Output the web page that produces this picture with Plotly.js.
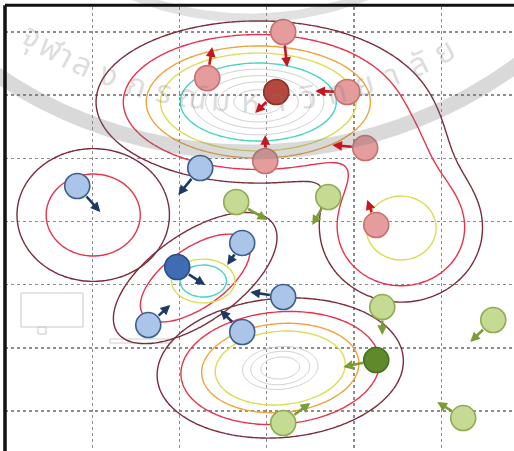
<!DOCTYPE html>
<html>
<head>
<meta charset="utf-8">
<script src="https://cdn.plot.ly/plotly-3.0.1.min.js"></script>
<style>
  html, body { margin: 0; padding: 0; background: #ffffff; }
  #chart { width: 514px; height: 451px; }
</style>
</head>
<body>
<div id="chart"></div>
<script>
// ---- sample points (grid units) and where each one moves to ----
const ptX  = [2.318, 3.189, 3.109, 3.923, 4.129, 2.983, 4.255,
              2.238, 0.828, 2.719, 1.974, 3.189, 1.642, 2.719,
              2.650, 3.705, 4.324, 5.596, 4.255, 3.189, 5.252];
const ptY  = [6.270, 7.000, 6.050, 6.050, 5.163, 4.958, 3.944,
              4.847, 4.562, 3.659, 3.280, 2.805, 2.361, 2.251,
              4.309, 4.388, 2.646, 2.441, 1.807, 0.810, 0.889];
const tipX = [2.375, 3.235, 2.868, 3.556, 3.751, 2.983, 4.152,
              1.986, 1.092, 2.547, 2.295, 2.811, 1.894, 2.467,
              3.006, 3.522, 4.324, 5.332, 3.877, 3.499, 4.954];
const tipY = [6.762, 6.446, 5.717, 6.066, 5.211, 5.369, 4.340,
              4.419, 4.150, 3.311, 2.995, 2.884, 2.678, 2.599,
              4.024, 3.944, 2.203, 2.092, 1.697, 1.127, 1.142];
const ptClass = ['r','r','r','r','r','r','r',
                 'b','b','b','b','b','b','b',
                 'g','g','g','g','g','g','g'];
const ptDark  = [0,0,1,0,0,0,0,
                 0,0,0,1,0,0,0,
                 0,0,0,0,1,0,0];

// ---- density components per class: [cx, cy, sx, sy, rho, weight] ----
const redParts = [
  [2.903, 5.892, 0.688, 0.475, 0.00, 1.00],   // main body
  [4.540, 3.897, 0.390, 0.491, 0.00, 0.45],   // lower-right lobe
  [4.470, 4.973, 0.340, 0.554, 0.00, 0.12]    // bridge between them
];
const blueParts = [
  [1.011, 4.103, 0.458, 0.551, 0.00, 0.16],   // left group
  [2.180, 3.105, 0.464, 0.514, 0.617, 0.20],  // tilted middle group
  [2.272, 3.058, 0.252, 0.240, 0.00, 0.75]    // middle core
];
const greenParts = [
  [3.155, 1.681, 0.556, 0.437, 0.10, 0.65]
];

// contour levels: outer rings share a palette, inner rings are pale grey
const ringLevels = [0.026, 0.08, 0.175, 0.265, 0.43];
const ringColors = ['#7a2d3b', '#e8324c', '#f0a33a', '#dcdc55', '#46d4c4'];
// for each ring: the groups of components that are contoured separately
const redRings   = [[[0,1,2]], [[0,1,2]], [[0]], [[0,1]], [[0]]];
const blueRings  = [[[0],[1]], [[0],[1]], [], [[2]], [[2]]];
const greenRings = [[[0]], [[0]], [[0]], [[0]], []];
const redInner   = [0.55, 0.68, 0.80, 0.92];
const greenInner = [0.48, 0.54, 0.60];

const classFill = {
  r: ['#e49d9c', '#b5473f'],
  b: ['#aac5e8', '#3e6db3'],
  g: ['#c5da92', '#5e8a2a']
};
const classEdge = {
  r: ['#c7706f', '#8e302a'],
  b: ['#3d5f8e', '#2b4f84'],
  g: ['#8fac52', '#46701e']
};
const arrowColor = { r: '#c8161e', b: '#1f3a62', g: '#7d9c35' };

// watermark lettering around the seal
const sealText = ['จุ','ฬา','ล','ง','ก','ร','ณ์','ม','ห','า','วิ','ท','ย','า','ลั','ย'];

// ---- axis extents (grid units) ----
const xRange = [0, 5.834];
const yRange = [0.367, 7.396];

function density(parts, x, y) {
  let s = 0;
  for (const p of parts) {
    const dx = (x - p[0]) / p[2];
    const dy = (y - p[1]) / p[3];
    const r = p[4];
    const q = (dx * dx - 2 * r * dx * dy + dy * dy) / (1 - r * r);
    s += p[5] * Math.exp(-0.5 * q);
  }
  return s;
}

const gx = [], gy = [];
for (let x = -0.2; x <= 6.0; x += 0.035) gx.push(+x.toFixed(4));
for (let y = 0.0; y <= 7.7; y += 0.035) gy.push(+y.toFixed(4));

function fieldOf(parts, idx) {
  const sub = idx.map(i => parts[i]);
  return gy.map(y => gx.map(x => density(sub, x, y)));
}

function levelTrace(z, level, color, width) {
  return {
    type: 'contour', x: gx, y: gy, z: z,
    autocontour: false,
    contours: { start: level, end: level, size: 1, coloring: 'none', showlabels: false },
    line: { color: color, width: width, smoothing: 1 },
    showscale: false, hoverinfo: 'skip', showlegend: false
  };
}

const traces = [];
function addClass(parts, rings, inner) {
  rings.forEach((groups, i) => {
    groups.forEach(idx => {
      traces.push(levelTrace(fieldOf(parts, idx), ringLevels[i], ringColors[i], 1.4));
    });
  });
  if (inner.length) {
    const core = fieldOf(parts, [0]);
    for (const lv of inner) traces.push(levelTrace(core, lv, '#d0d0d0', 1));
  }
}
addClass(redParts, redRings, redInner);
addClass(blueParts, blueRings, []);
addClass(greenParts, greenRings, greenInner);

// sample points
traces.push({
  type: 'scatter', mode: 'markers', x: ptX, y: ptY,
  marker: {
    size: 25,
    color: ptClass.map((c, i) => classFill[c][ptDark[i]]),
    line: { color: ptClass.map((c, i) => classEdge[c][ptDark[i]]), width: 1.6 }
  },
  hoverinfo: 'skip', showlegend: false
});

// movement arrows
const annotations = ptX.map((x0, i) => ({
  x: tipX[i], y: tipY[i], xref: 'x', yref: 'y',
  ax: x0, ay: ptY[i], axref: 'x', ayref: 'y',
  text: '', showarrow: true,
  arrowhead: 2, arrowsize: 0.75, arrowwidth: 2.6,
  arrowcolor: arrowColor[ptClass[i]],
  startstandoff: 12
}));

// seal watermark: pixel geometry converted to paper coordinates
const W = 514, H = 451, ML = 5, MT = 7;
const px2paperX = px => (px - ML) / (W - ML);
const py2paperY = py => (H - py) / (H - MT);
const sealCx = 250, sealCy = -300;
const nLetters = sealText.length;
sealText.forEach((t, k) => {
  const phi = -33 + k * (62 / (nLetters - 1));
  const rad = phi * Math.PI / 180;
  const R = 402;
  annotations.push({
    xref: 'paper', yref: 'paper',
    x: px2paperX(sealCx + R * Math.sin(rad)),
    y: py2paperY(sealCy + R * Math.cos(rad)),
    text: t, showarrow: false, textangle: -phi,
    font: { family: 'Noto Sans Thai, Noto Sans, DejaVu Sans', size: 32, color: 'rgba(120,120,120,0.26)' },
    xanchor: 'center', yanchor: 'middle'
  });
});

function ring(R, width, alpha) {
  return {
    type: 'circle', xref: 'paper', yref: 'paper', layer: 'above',
    x0: px2paperX(sealCx - R), x1: px2paperX(sealCx + R),
    y0: py2paperY(sealCy + R), y1: py2paperY(sealCy - R),
    line: { color: 'rgba(120,120,120,' + alpha + ')', width: width },
    fillcolor: 'rgba(0,0,0,0)'
  };
}

const shapes = [
  ring(452, 15, 0.28),
  ring(318, 9, 0.22),
  // small faint inset on the left
  { type: 'rect', xref: 'paper', yref: 'paper', layer: 'below',
    x0: px2paperX(21), x1: px2paperX(83), y0: py2paperY(327), y1: py2paperY(293),
    line: { color: '#c9c9c9', width: 1 } },
  { type: 'rect', xref: 'paper', yref: 'paper', layer: 'below',
    x0: px2paperX(38), x1: px2paperX(46), y0: py2paperY(334), y1: py2paperY(327),
    line: { color: '#c9c9c9', width: 1 } },
  { type: 'rect', xref: 'paper', yref: 'paper', layer: 'below',
    x0: px2paperX(110), x1: px2paperX(172), y0: py2paperY(343), y1: py2paperY(339),
    line: { color: '#cfcfcf', width: 1 } },
  // frame: left and top edges
  { type: 'line', xref: 'paper', yref: 'paper', x0: 0, x1: 0, y0: -0.05, y1: 1.004,
    line: { color: '#111111', width: 3.5 } },
  { type: 'line', xref: 'paper', yref: 'paper', x0: 0, x1: 1.02, y0: 1.004, y1: 1.004,
    line: { color: '#111111', width: 3 } }
];

const layout = {
  width: W, height: H,
  margin: { l: ML, r: 0, t: MT, b: 0, pad: 0 },
  paper_bgcolor: '#ffffff', plot_bgcolor: '#ffffff',
  showlegend: false,
  xaxis: {
    range: xRange, tick0: 0, dtick: 1, showgrid: true,
    gridcolor: '#8c8c8c', gridwidth: 1.4, griddash: 'dot',
    zeroline: false, showticklabels: false, ticks: '', showline: false, fixedrange: true
  },
  yaxis: {
    range: yRange, tick0: 0, dtick: 1, showgrid: true,
    gridcolor: '#8c8c8c', gridwidth: 1.4, griddash: 'dot',
    zeroline: false, showticklabels: false, ticks: '', showline: false, fixedrange: true
  },
  annotations: annotations,
  shapes: shapes
};

Plotly.newPlot('chart', traces, layout, { staticPlot: true, displayModeBar: false });
</script>
</body>
</html>
